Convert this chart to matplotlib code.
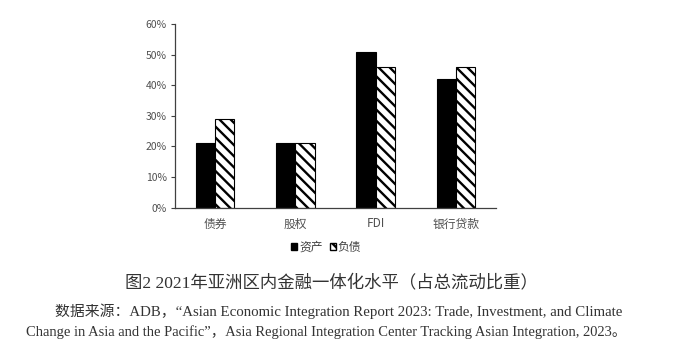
import numpy as np
import matplotlib
matplotlib.use('Agg')
import matplotlib.pyplot as plt
from matplotlib.patches import Patch
from matplotlib.ticker import PercentFormatter

# data (share of total flows)
categories = ['债券', '股权', 'FDI', '银行贷款']
assets = [0.21, 0.21, 0.51, 0.42]
liabilities = [0.29, 0.21, 0.46, 0.46]
series_names = ['资产', '负债']

title = '图2 2021年亚洲区内金融一体化水平（占总流动比重）'
source_1 = '数据来源：ADB，“Asian Economic Integration Report 2023: Trade, Investment, and Climate'
source_2 = 'Change in Asia and the Pacific”，Asia Regional Integration Center Tracking Asian Integration, 2023。'

plt.rcParams['font.family'] = ['Noto Sans CJK SC', 'DejaVu Sans']
plt.rcParams['hatch.linewidth'] = 1.7

fig = plt.figure(figsize=(6.84, 3.59), dpi=100)
ax = fig.add_axes([175 / 684, 1 - 207.7 / 359, 321 / 684, 183.7 / 359])

x = np.arange(len(categories))
w = 0.24
ax.bar(x - w / 2, assets, w, color='black', edgecolor='black', linewidth=0.8)
ax.bar(x + w / 2, liabilities, w, color='white', edgecolor='black', linewidth=0.8, hatch='\\\\\\')

ax.set_xlim(-0.5, len(categories) - 0.5)
ax.set_ylim(0, 0.6)
ax.set_yticks(np.arange(0, 0.61, 0.1))
ax.yaxis.set_major_formatter(PercentFormatter(1.0, decimals=0))
ax.set_xticks(x)
ax.set_xticklabels(categories)

for s in ['top', 'right']:
    ax.spines[s].set_visible(False)
for s in ['left', 'bottom']:
    ax.spines[s].set_color('#404040')
    ax.spines[s].set_linewidth(0.9)
ax.tick_params(axis='y', length=3, width=0.8, color='#404040', labelsize=7.5,
               labelcolor='#505050', pad=3)
ax.tick_params(axis='x', length=0, labelsize=8.5, labelcolor='#505050', pad=7)

handles = [Patch(facecolor='black', edgecolor='black'),
           Patch(facecolor='white', edgecolor='black', hatch='\\\\\\')]
fig.legend(handles, series_names, loc='center', bbox_to_anchor=(326 / 684, 1 - 247 / 359),
           ncol=2, frameon=False, fontsize=8.5, handlelength=0.55, handleheight=0.55,
           handletextpad=0.15, columnspacing=0.6, labelcolor='#404040')

serif = ['Liberation Serif', 'Noto Sans CJK SC']
fig.text(125 / 684, 1 - 283 / 359, title, ha='left', va='center', fontsize=12.5,
         family=serif, color='#333333')
fig.text(55 / 684, 1 - 311 / 359, source_1, ha='left', va='center', fontsize=10.7,
         family=serif, color='#333333')
fig.text(26 / 684, 1 - 332 / 359, source_2, ha='left', va='center', fontsize=10.45,
         family=serif, color='#333333')

fig.savefig('out.png', dpi=100)
